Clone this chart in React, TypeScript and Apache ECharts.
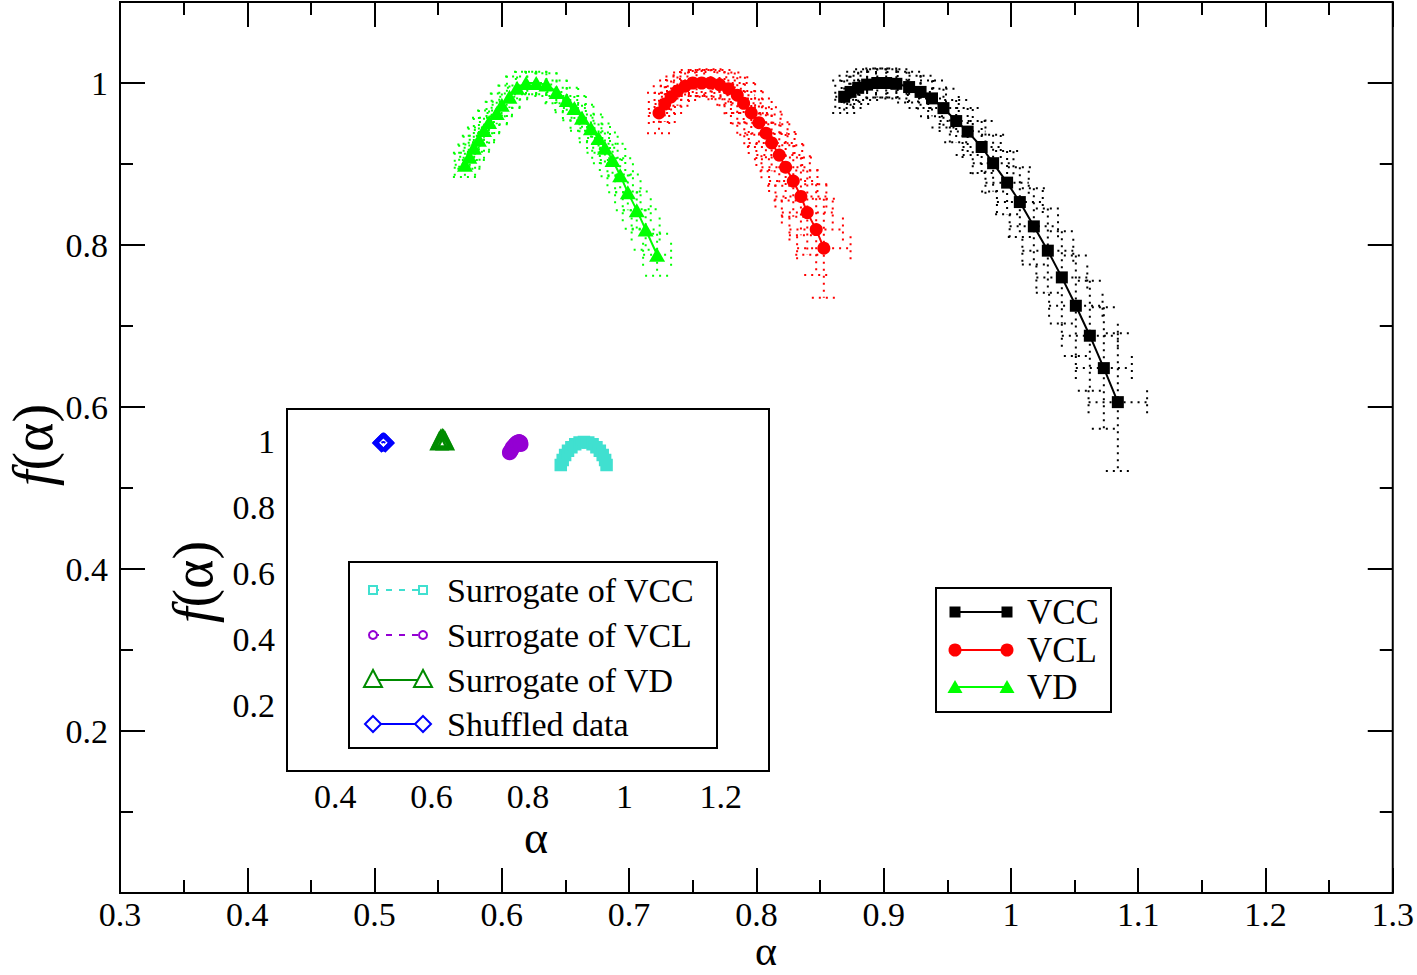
import React, { useEffect, useRef } from "react";
import * as echarts from "echarts";

// ---------------- Data ----------------
const vccAlpha = [0.869, 0.874, 0.880, 0.887, 0.895, 0.902, 0.910, 0.920, 0.929, 0.938, 0.947, 0.957, 0.966, 0.977, 0.986, 0.997, 1.007, 1.018, 1.029, 1.040, 1.051, 1.062, 1.073, 1.084];
const vccF = [0.983, 0.989, 0.994, 0.998, 1.000, 1.000, 0.999, 0.995, 0.989, 0.981, 0.969, 0.953, 0.940, 0.921, 0.901, 0.877, 0.853, 0.823, 0.793, 0.760, 0.725, 0.688, 0.648, 0.606];
const vccErrAlpha = [0.007, 0.007, 0.007, 0.007, 0.008, 0.008, 0.008, 0.009, 0.010, 0.011, 0.012, 0.013, 0.014, 0.015, 0.016, 0.017, 0.018, 0.019, 0.020, 0.020, 0.021, 0.022, 0.022, 0.023];
const vccErrF = [0.020, 0.020, 0.020, 0.019, 0.018, 0.018, 0.018, 0.019, 0.020, 0.022, 0.024, 0.026, 0.029, 0.032, 0.035, 0.039, 0.043, 0.047, 0.052, 0.057, 0.062, 0.068, 0.075, 0.085];

const vclAlpha = [0.7235, 0.728, 0.733, 0.738, 0.744, 0.750, 0.757, 0.764, 0.771, 0.778, 0.785, 0.790, 0.796, 0.802, 0.8075, 0.812, 0.818, 0.823, 0.829, 0.835, 0.840, 0.847, 0.853];
const vclF = [0.963, 0.974, 0.983, 0.990, 0.996, 1.000, 1.000, 1.000, 0.998, 0.993, 0.985, 0.975, 0.963, 0.951, 0.938, 0.926, 0.911, 0.896, 0.879, 0.860, 0.840, 0.819, 0.796];
const vclErrAlpha = [0.008, 0.008, 0.008, 0.009, 0.009, 0.010, 0.010, 0.011, 0.012, 0.013, 0.014, 0.015, 0.016, 0.017, 0.017, 0.018, 0.018, 0.019, 0.019, 0.020, 0.020, 0.021, 0.021];
const vclErrF = [0.025, 0.022, 0.020, 0.018, 0.017, 0.016, 0.016, 0.017, 0.018, 0.020, 0.022, 0.025, 0.027, 0.030, 0.032, 0.035, 0.038, 0.041, 0.044, 0.048, 0.052, 0.056, 0.061];

const vdAlpha = [0.571, 0.5745, 0.578, 0.582, 0.586, 0.590, 0.596, 0.600, 0.606, 0.612, 0.619, 0.627, 0.635, 0.643, 0.651, 0.657, 0.663, 0.670, 0.676, 0.681, 0.687, 0.693, 0.699, 0.706, 0.713, 0.722];
const vdF = [0.899, 0.909, 0.920, 0.930, 0.942, 0.952, 0.963, 0.973, 0.983, 0.994, 1.000, 1.000, 0.998, 0.989, 0.979, 0.969, 0.957, 0.944, 0.932, 0.920, 0.905, 0.886, 0.865, 0.843, 0.819, 0.788];
const vdErrAlpha = [0.008, 0.008, 0.008, 0.008, 0.008, 0.008, 0.008, 0.008, 0.008, 0.008, 0.008, 0.008, 0.008, 0.008, 0.009, 0.009, 0.009, 0.009, 0.009, 0.010, 0.010, 0.010, 0.010, 0.011, 0.011, 0.011];
const vdErrF = [0.015, 0.015, 0.015, 0.015, 0.015, 0.014, 0.014, 0.014, 0.014, 0.014, 0.014, 0.014, 0.014, 0.014, 0.015, 0.015, 0.016, 0.017, 0.018, 0.019, 0.020, 0.021, 0.022, 0.023, 0.025, 0.026];

// inset
const surVccAlpha = [0.868, 0.872, 0.877, 0.883, 0.890, 0.898, 0.907, 0.916, 0.925, 0.934, 0.942, 0.949, 0.955, 0.960, 0.963];
const surVccF = [0.930, 0.945, 0.960, 0.973, 0.984, 0.993, 0.998, 1.000, 0.998, 0.993, 0.984, 0.973, 0.960, 0.945, 0.930];
const surVclAlpha = [0.762, 0.765, 0.768, 0.772, 0.776, 0.779, 0.782, 0.784, 0.785];
const surVclF = [0.968, 0.975, 0.983, 0.990, 0.996, 0.999, 1.000, 0.998, 0.993];
const surVdAlpha = [0.616, 0.619, 0.622, 0.625, 0.628];
const surVdF = [1.002, 1.008, 1.010, 1.008, 1.002];
const shufAlpha = [0.496, 0.498, 0.500, 0.502, 0.504];
const shufF = [0.997, 0.999, 1.000, 0.999, 0.997];

// ticks
const mainXMajor = [0.3, 0.4, 0.5, 0.6, 0.7, 0.8, 0.9, 1, 1.1, 1.2, 1.3];
const mainXMinor = [0.35, 0.45, 0.55, 0.65, 0.75, 0.85, 0.95, 1.05, 1.15, 1.25];
const mainYLabels = [0.2, 0.4, 0.6, 0.8, 1];
const mainYMajor = [0, 0.2, 0.4, 0.6, 0.8, 1];
const mainYMinor = [0.1, 0.3, 0.5, 0.7, 0.9];
const insetXMajor = [0.4, 0.6, 0.8, 1, 1.2];
const insetXMinor = [0.5, 0.7, 0.9, 1.1];
const insetYMajor = [0.2, 0.4, 0.6, 0.8, 1];
const insetYMinor = [0.1, 0.3, 0.5, 0.7, 0.9];

const FONT = "Liberation Serif";
const C_VCC = "#000000";
const C_VCL = "#ff0000";
const C_VD = "#00ff00";
const C_SVCC = "#40e0d0";
const C_SVCL = "#9400d3";
const C_SVD = "#008b00";
const C_SHUF = "#0000ff";

const pairs = (a: number[], b: number[]) => a.map((v, i) => [v, b[i]]);

function axis(gridIndex: number, position: string, min: number, max: number, ticks: number[], len: number, labels: number[] | null, margin: number) {
  return {
    type: "value",
    gridIndex,
    position,
    min,
    max,
    axisLine: { show: false, onZero: false },
    splitLine: { show: false },
    minorTick: { show: false },
    axisTick: { show: true, inside: true, length: len, customValues: ticks, lineStyle: { color: "#000", width: 2 } },
    axisLabel: labels
      ? { show: true, customValues: labels, margin, fontFamily: FONT, fontSize: 34, color: "#000", formatter: (v: number) => String(v) }
      : { show: false },
  };
}

function errorSeries(alpha: number[], f: number[], ea: number[], ef: number[], color: string) {
  return {
    type: "custom",
    xAxisIndex: 0,
    yAxisIndex: 0,
    z: 1,
    silent: true,
    encode: { x: 0, y: 1 },
    data: alpha.map((a, i) => [a, f[i], ea[i], ef[i]]),
    renderItem: (_p: any, api: any) => {
      const x = api.value(0), y = api.value(1), ex = api.value(2), ey = api.value(3);
      const l = api.coord([x - ex, y]);
      const r = api.coord([x + ex, y]);
      const t = api.coord([x, y + ey]);
      const b = api.coord([x, y - ey]);
      const c = 12;
      const style = { stroke: color, lineWidth: 2, lineDash: [2, 5], fill: null };
      const ln = (x1: number, y1: number, x2: number, y2: number) => ({ type: "line", shape: { x1, y1, x2, y2 }, style });
      return {
        type: "group",
        children: [
          ln(l[0], l[1], r[0], r[1]),
          ln(l[0], l[1] - c, l[0], l[1] + c),
          ln(r[0], r[1] - c, r[0], r[1] + c),
          ln(t[0], t[1], b[0], b[1]),
          ln(t[0] - c, t[1], t[0] + c, t[1]),
          ln(b[0] - c, b[1], b[0] + c, b[1]),
        ],
      };
    },
  };
}

function mainLine(name: string, alpha: number[], f: number[], color: string, symbol: string, size: any) {
  return {
    type: "line",
    name,
    xAxisIndex: 0,
    yAxisIndex: 0,
    z: 3,
    data: pairs(alpha, f),
    symbol,
    symbolSize: size,
    showSymbol: true,
    itemStyle: { color, borderWidth: 0 },
    lineStyle: { color, width: 2 },
  };
}

function insetLine(name: string, alpha: number[], f: number[], color: string, symbol: string, size: any, dashed: boolean, filled: boolean) {
  return {
    type: "line",
    name,
    xAxisIndex: 4,
    yAxisIndex: 4,
    z: 5,
    data: pairs(alpha, f),
    symbol,
    symbolSize: size,
    showSymbol: true,
    itemStyle: { color: filled ? color : "rgba(0,0,0,0)", borderColor: color, borderWidth: 2.5 },
    lineStyle: { color, width: 2, type: dashed ? "dashed" : "solid" },
  };
}

function legendGraphics() {
  const els: any[] = [];
  // main legend
  els.push({ type: "rect", shape: { x: 936, y: 588, width: 175, height: 124 }, style: { fill: "#fff", stroke: "#000", lineWidth: 2 }, z: 100 });
  const mainRows = [
    { y: 612, text: "VCC", color: C_VCC, sym: "rect" },
    { y: 650, text: "VCL", color: C_VCL, sym: "circle" },
    { y: 687, text: "VD", color: C_VD, sym: "triangle" },
  ];
  mainRows.forEach((r) => {
    els.push({ type: "line", shape: { x1: 955, y1: r.y, x2: 1007, y2: r.y }, style: { stroke: r.color, lineWidth: 2 }, z: 101 });
    [955, 1007].forEach((cx) => {
      if (r.sym === "rect") els.push({ type: "rect", shape: { x: cx - 5.5, y: r.y - 5.5, width: 11, height: 11 }, style: { fill: r.color }, z: 102 });
      else if (r.sym === "circle") els.push({ type: "circle", shape: { cx, cy: r.y, r: 6.5 }, style: { fill: r.color }, z: 102 });
      else els.push({ type: "polygon", shape: { points: [[cx, r.y - 7], [cx - 7.5, r.y + 6], [cx + 7.5, r.y + 6]] }, style: { fill: r.color }, z: 102 });
    });
    els.push({ type: "text", x: 1027, y: r.y, style: { text: r.text, fontFamily: FONT, fontSize: 35, fill: "#000", align: "left", verticalAlign: "middle" }, z: 102 });
  });

  // inset legend
  els.push({ type: "rect", shape: { x: 349, y: 562, width: 368, height: 186 }, style: { fill: "#fff", stroke: "#000", lineWidth: 2 }, z: 100 });
  const insetRows = [
    { y: 590, text: "Surrogate of VCC", color: C_SVCC, sym: "rect", dashed: true },
    { y: 635, text: "Surrogate of VCL", color: C_SVCL, sym: "circle", dashed: true },
    { y: 680, text: "Surrogate of VD", color: C_SVD, sym: "triangle", dashed: false },
    { y: 724, text: "Shuffled data", color: C_SHUF, sym: "diamond", dashed: false },
  ];
  insetRows.forEach((r) => {
    els.push({ type: "line", shape: { x1: 373, y1: r.y, x2: 423, y2: r.y }, style: { stroke: r.color, lineWidth: 2, lineDash: r.dashed ? [6, 7] : null }, z: 101 });
    [373, 423].forEach((cx) => {
      const st = { fill: "#fff", stroke: r.color, lineWidth: 2 };
      if (r.sym === "rect") els.push({ type: "rect", shape: { x: cx - 4, y: r.y - 4, width: 8, height: 8 }, style: st, z: 102 });
      else if (r.sym === "circle") els.push({ type: "circle", shape: { cx, cy: r.y, r: 4 }, style: st, z: 102 });
      else if (r.sym === "triangle") els.push({ type: "polygon", shape: { points: [[cx, r.y - 10], [cx - 9, r.y + 7], [cx + 9, r.y + 7]] }, style: st, z: 102 });
      else els.push({ type: "polygon", shape: { points: [[cx, r.y - 8], [cx + 8, r.y], [cx, r.y + 8], [cx - 8, r.y]] }, style: st, z: 102 });
    });
    els.push({ type: "text", x: 447, y: r.y, style: { text: r.text, fontFamily: FONT, fontSize: 34, fill: "#000", align: "left", verticalAlign: "middle" }, z: 102 });
  });

  // axis titles
  const title = (x: number, y: number, rot: number, withF: boolean, size: number) => ({
    type: "text",
    x,
    y,
    rotation: rot,
    z: 102,
    style: {
      text: withF ? "{i|f}{n|(α)}" : "α",
      fontFamily: FONT,
      fontSize: size,
      fill: "#000",
      align: "center",
      verticalAlign: "middle",
      rich: {
        i: { fontFamily: FONT, fontSize: size, fontStyle: "italic", fill: "#000" },
        n: { fontFamily: FONT, fontSize: size, fill: "#000" },
      },
    },
  });
  els.push(title(766, 951, 0, false, 42));
  els.push(title(536, 837, 0, false, 46));
  els.push(title(33, 445, Math.PI / 2, true, 56));
  els.push(title(193, 582, Math.PI / 2, true, 56));
  return els;
}

export default function App() {
  const ref = useRef<HTMLDivElement>(null);
  useEffect(() => {
    if (!ref.current) return;
    const chart = echarts.init(ref.current, null, { renderer: "svg" });
    const option: any = {
      animation: false,
      backgroundColor: "#fff",
      grid: [
        { left: 120, top: 2, width: 1275, height: 891, show: true, borderColor: "#000", borderWidth: 2, backgroundColor: "transparent" },
        { left: 287, top: 409, width: 482, height: 362, show: true, borderColor: "#000", borderWidth: 2, backgroundColor: "#fff", z: 4 },
      ],
      xAxis: [
        axis(0, "bottom", 0.3, 1.3, mainXMajor, 25, mainXMajor, 4),
        axis(0, "bottom", 0.3, 1.3, mainXMinor, 13, null, 0),
        axis(0, "top", 0.3, 1.3, mainXMajor, 25, null, 0),
        axis(0, "top", 0.3, 1.3, mainXMinor, 13, null, 0),
        axis(1, "bottom", 0.3, 1.3, insetXMajor, 24, insetXMajor, 8),
        axis(1, "bottom", 0.3, 1.3, insetXMinor, 12, null, 0),
        axis(1, "top", 0.3, 1.3, insetXMajor, 24, null, 0),
        axis(1, "top", 0.3, 1.3, insetXMinor, 12, null, 0),
      ],
      yAxis: [
        axis(0, "left", 0, 1.1, mainYMajor, 25, mainYLabels, 12),
        axis(0, "left", 0, 1.1, mainYMinor, 13, null, 0),
        axis(0, "right", 0, 1.1, mainYMajor, 25, null, 0),
        axis(0, "right", 0, 1.1, mainYMinor, 13, null, 0),
        axis(1, "left", 0, 1.1, insetYMajor, 24, insetYMajor, 12),
        axis(1, "left", 0, 1.1, insetYMinor, 12, null, 0),
        axis(1, "right", 0, 1.1, insetYMajor, 24, null, 0),
        axis(1, "right", 0, 1.1, insetYMinor, 12, null, 0),
      ],
      series: [
        errorSeries(vccAlpha, vccF, vccErrAlpha, vccErrF, C_VCC),
        errorSeries(vclAlpha, vclF, vclErrAlpha, vclErrF, C_VCL),
        errorSeries(vdAlpha, vdF, vdErrAlpha, vdErrF, C_VD),
        mainLine("VCC", vccAlpha, vccF, C_VCC, "rect", 12),
        mainLine("VCL", vclAlpha, vclF, C_VCL, "circle", 13),
        mainLine("VD", vdAlpha, vdF, C_VD, "triangle", [16, 14]),
        insetLine("Surrogate of VCC", surVccAlpha, surVccF, C_SVCC, "rect", 10, true, true),
        insetLine("Surrogate of VCL", surVclAlpha, surVclF, C_SVCL, "circle", 13, true, true),
        insetLine("Surrogate of VD", surVdAlpha, surVdF, C_SVD, "triangle", 16, false, false),
        insetLine("Shuffled data", shufAlpha, shufF, C_SHUF, "diamond", 16, false, false),
      ],
      graphic: legendGraphics(),
    };
    chart.setOption(option);
    return () => chart.dispose();
  }, []);
  return <div ref={ref} style={{ position: "fixed", left: 0, top: 0, width: 1417, height: 975, background: "#fff" }} />;
}
